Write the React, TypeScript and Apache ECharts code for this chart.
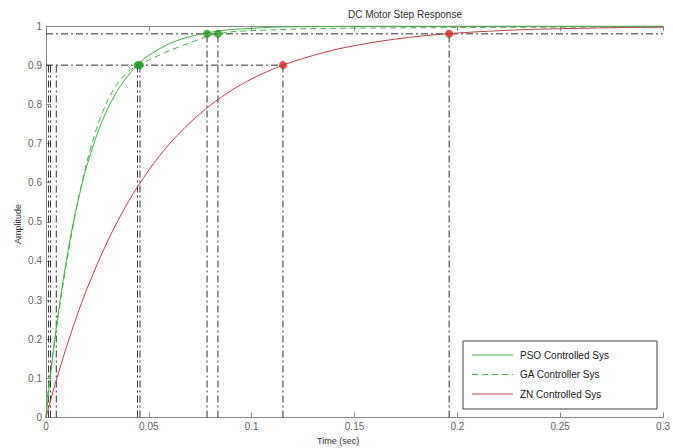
import React, { useEffect, useRef } from "react";
import * as echarts from "echarts";

// Time grid (s) for PSO / GA responses
const timeFast = [0, 0.001, 0.002, 0.004, 0.006, 0.008, 0.01, 0.0125, 0.015, 0.0175, 0.02, 0.025, 0.03, 0.035, 0.04, 0.045, 0.05, 0.06, 0.07, 0.08, 0.09, 0.1, 0.11, 0.12, 0.14, 0.16, 0.2, 0.25, 0.3];
const psoValues = [0, 0.05, 0.098, 0.187, 0.267, 0.339, 0.404, 0.477, 0.54, 0.596, 0.645, 0.726, 0.789, 0.837, 0.874, 0.903, 0.925, 0.955, 0.973, 0.984, 0.991, 0.994, 0.997, 0.998, 0.999, 1.0, 1.0, 1.0, 1.0];
const gaValues = [0, 0.07, 0.11, 0.19, 0.26, 0.33, 0.395, 0.47, 0.54, 0.6, 0.655, 0.745, 0.81, 0.855, 0.884, 0.9, 0.913, 0.937, 0.957, 0.976, 0.985, 0.988, 0.99, 0.992, 0.994, 0.995, 0.996, 0.997, 0.998];
// Time grid (s) for ZN response
const timeZN = [0, 0.0025, 0.005, 0.01, 0.015, 0.02, 0.03, 0.04, 0.05, 0.06, 0.07, 0.08, 0.09, 0.1, 0.11, 0.12, 0.14, 0.16, 0.18, 0.2, 0.22, 0.24, 0.26, 0.28, 0.3];
const znValues = [0, 0.049, 0.095, 0.181, 0.259, 0.33, 0.451, 0.551, 0.632, 0.699, 0.753, 0.798, 0.835, 0.865, 0.889, 0.909, 0.939, 0.959, 0.973, 0.982, 0.988, 0.992, 0.994, 0.996, 0.997];

// Characteristic markers
const riseLevel = 0.9;
const settleLevel = 0.98;
const riseStartTimes = [0.0012, 0.0022, 0.005];
const greenRiseTimes = [0.0445, 0.0457];
const greenSettleTimes = [0.0783, 0.0836];
const redRiseTimes = [0.1152];
const redSettleTimes = [0.196];

const xTicks = ["0", "0.05", "0.1", "0.15", "0.2", "0.25", "0.3"];
const yTicks = ["0", "0.1", "0.2", "0.3", "0.4", "0.5", "0.6", "0.7", "0.8", "0.9", "1"];

const seriesNames = ["PSO Controlled Sys", "GA Controller Sys", "ZN Controlled Sys"];
const seriesColors = ["#4caf4c", "#4caf4c", "#b3474a"];
const seriesDash: (number[] | null)[] = [null, [6, 4], null];

const FONT = "'Liberation Sans', Arial, sans-serif";

export default function App() {
  const ref = useRef<HTMLDivElement>(null);
  useEffect(() => {
    document.body.style.margin = "0";
    const chart = echarts.init(ref.current!, undefined, { renderer: "svg" });
    const dashDot = [7, 3, 2, 3];
    const refLine = (pts: number[][]) => ({
      type: "line",
      data: pts,
      symbol: "none",
      silent: true,
      z: 1,
      lineStyle: { color: "#333", width: 1, type: dashDot },
    });
    const segs: any[] = [];
    const allRise = [...greenRiseTimes, ...redRiseTimes];
    const allSettle = [...greenSettleTimes, ...redSettleTimes];
    segs.push(refLine([[0, riseLevel], [Math.max(...allRise), riseLevel]]));
    segs.push(refLine([[0, settleLevel], [0.3, settleLevel]]));
    riseStartTimes.forEach((t) => segs.push(refLine([[t, 0], [t, riseLevel]])));
    allRise.forEach((t) => segs.push(refLine([[t, 0], [t, riseLevel]])));
    allSettle.forEach((t) => segs.push(refLine([[t, 0], [t, settleLevel]])));

    const zip = (xs: number[], ys: number[]) => xs.map((x, i) => [x, ys[i]]);

    const axisCommon = {
      type: "value",
      axisLine: { show: true, lineStyle: { color: "#8a8a8a", width: 1 } },
      axisTick: { show: true, inside: true, length: 5, lineStyle: { color: "#8a8a8a" } },
      splitLine: { show: false },
    };

    // Hand-drawn legend box (line samples + real text)
    const legendX = 463, legendY = 341, legendW = 194, legendH = 68;
    const legendGraphics: any[] = [
      {
        type: "rect",
        shape: { x: legendX, y: legendY, width: legendW, height: legendH },
        style: { fill: "#fff", stroke: "#444", lineWidth: 1 },
        z: 10,
      },
    ];
    seriesNames.forEach((name, i) => {
      const y = legendY + 14 + i * 19.5;
      legendGraphics.push({
        type: "line",
        shape: { x1: legendX + 9, y1: y, x2: legendX + 50, y2: y },
        style: { stroke: seriesColors[i], lineWidth: 1, lineDash: seriesDash[i] || undefined },
        z: 11,
      });
      legendGraphics.push({
        type: "text",
        x: legendX + 57,
        y: y,
        style: { text: name, fontSize: 10, fontFamily: FONT, fill: "#222", verticalAlign: "middle" },
        z: 11,
      });
    });

    chart.setOption({
      animation: false,
      backgroundColor: "#fff",
      grid: { left: 46, right: 8, top: 26, bottom: 30.5, containLabel: false },
      graphic: [
        { type: "text", left: 348, top: 9, style: { text: "DC Motor Step Response", fontSize: 10, fontFamily: FONT, fill: "#333" } },
        { type: "text", left: 317, top: 436, style: { text: "Time (sec)", fontSize: 9, fontFamily: FONT, fill: "#333" } },
        { type: "text", x: 13, y: 244, rotation: Math.PI / 2, style: { text: "Amplitude", fontSize: 9, fontFamily: FONT, fill: "#333" } },
        ...legendGraphics,
      ],
      xAxis: [
        {
          ...axisCommon,
          min: 0,
          max: 0.3,
          interval: 0.05,
          position: "bottom",
          axisLabel: {
            color: "#666",
            fontSize: 10,
            fontFamily: FONT,
            margin: 4,
            formatter: (v: number) => xTicks[Math.round(v / 0.05)] ?? "",
          },
        },
        {
          ...axisCommon,
          min: 0,
          max: 0.3,
          interval: 0.05,
          position: "top",
          axisLabel: { show: false },
        },
      ],
      yAxis: [
        {
          ...axisCommon,
          min: 0,
          max: 1,
          interval: 0.1,
          axisLabel: {
            color: "#666",
            fontSize: 10,
            fontFamily: FONT,
            margin: 4,
            formatter: (v: number) => yTicks[Math.round(v / 0.1)] ?? "",
          },
        },
      ],
      series: [
        ...segs,
        ...[timeFast, timeFast, timeZN].map((xs, i) => ({
          name: seriesNames[i],
          type: "line",
          data: zip(xs, [psoValues, gaValues, znValues][i]),
          symbol: "none",
          smooth: 0.3,
          z: 3,
          lineStyle: { color: seriesColors[i], width: 1, type: seriesDash[i] || "solid" },
        })),
        {
          type: "scatter",
          data: [
            ...greenRiseTimes.map((t) => [t, riseLevel]),
            ...greenSettleTimes.map((t) => [t, settleLevel]),
          ],
          symbolSize: 8,
          z: 5,
          silent: true,
          itemStyle: { color: "#1f9a1f" },
        },
        {
          type: "scatter",
          data: [
            ...redRiseTimes.map((t) => [t, riseLevel]),
            ...redSettleTimes.map((t) => [t, settleLevel]),
          ],
          symbolSize: 8,
          z: 5,
          silent: true,
          itemStyle: { color: "#dd2222" },
        },
      ],
    });
    return () => chart.dispose();
  }, []);
  return (
    <div
      ref={ref}
      style={{ position: "fixed", left: 0, top: 0, width: 673, height: 448 }}
    />
  );
}
